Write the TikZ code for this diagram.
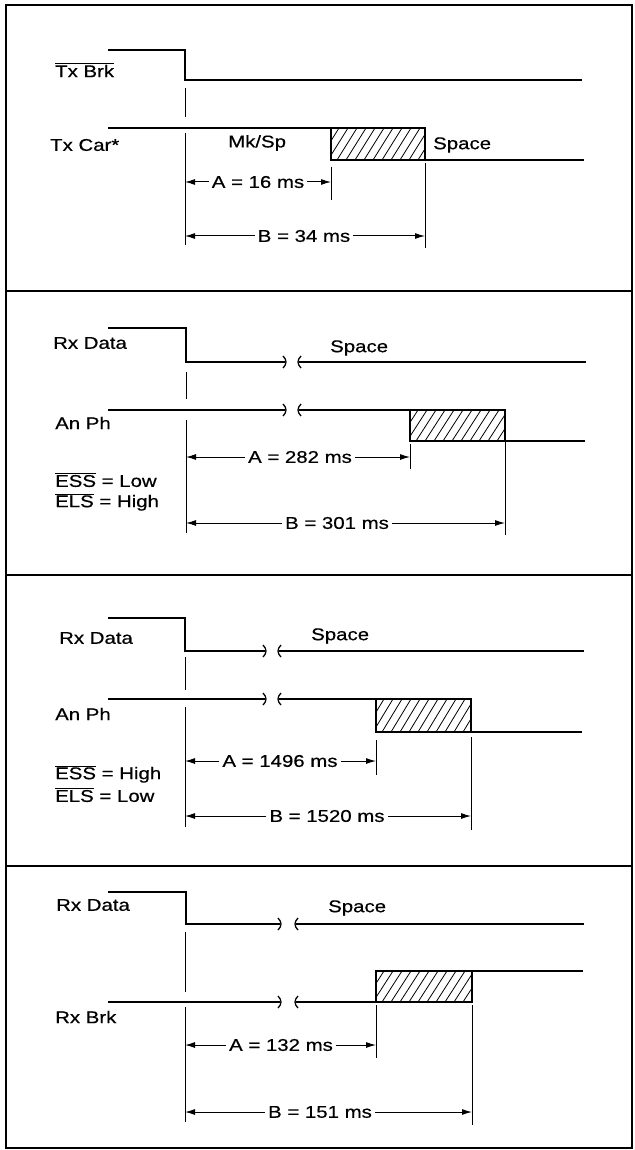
\documentclass[tikz,border=0pt]{standalone}
\usepackage{fontspec}
\setmainfont{Liberation Sans}[FakeStretch=1.2,FakeBold=0.5]
\usetikzlibrary{arrows.meta}
\tikzset{
  sig/.style={line width=2.6pt},
  guide/.style={line width=1pt},
  brktick/.style={line width=1.3pt},
  dimarrow/.style={line width=1pt,-{Latex[length=10pt,width=6pt]}},
  lbl/.style={anchor=west,inner sep=0pt,font=\fontsize{17}{20}\selectfont},
  dimlbl/.style={inner sep=3pt,font=\fontsize{17}{20}\selectfont},
  hatchline/.style={line width=0.8pt},
  frame/.style={line width=2pt},
}
\newcommand\myhatch[4]{%
  \begin{scope}
    \clip (#1,#2) rectangle (#3,#4);
    \foreach \i in {-30,-21,...,110} \draw[hatchline] ({#1+\i},#4) -- ({#1+\i+20},#2);
  \end{scope}
  \draw[sig] (#1,#2) rectangle (#3,#4);
}
\newcommand\mybreakL[2]{%
  \draw[brktick] ({#1-2},{#2-6}) .. controls ({#1+2},{#2-2}) and ({#1+2},{#2+2}) .. ({#1-2},{#2+6});
}
\newcommand\mybreakR[2]{%
  \draw[brktick] ({#1+2},{#2-6}) .. controls ({#1-2},{#2-2}) and ({#1-2},{#2+2}) .. ({#1+2},{#2+6});
}
\begin{document}
\begin{tikzpicture}[x=1pt,y=-1pt]
\useasboundingbox (0,0) rectangle (634,1150);
% frame
\draw[frame] (6,5) rectangle (632,1148);
\draw[frame] (6,291) -- (632,291);
\draw[frame] (6,575) -- (632,575);
\draw[frame] (6,866) -- (632,866);

% ---------------- Panel 1
\coordinate (p1a) at (108,50); \coordinate (p1b) at (185,50);
\coordinate (p1c) at (185,80); \coordinate (p1d) at (582,80);
\draw[sig] (p1a) -- (p1b) -- (p1c) -- (p1d);
\node[lbl] (txbrk) at (55,70) {$\overline{\mbox{Tx Brk}}$};
\coordinate (p1e) at (108,128); \coordinate (p1f) at (331,128);
\draw[sig] (p1e) -- (p1f);
\myhatch{331}{128}{425}{160}
\coordinate (p1g) at (425,160); \coordinate (p1h) at (584,160);
\draw[sig] (p1g) -- (p1h);
\node[lbl] (txcar) at (50,145) {Tx Car*};
\node[lbl] (mksp) at (228,143) {Mk/Sp};
\node[lbl] (sp1) at (433,145) {Space};
\draw[guide] (185,88) -- (185,117);
\draw[guide] (185,133) -- (185,245);
\draw[guide] (331,167) -- (331,200);
\draw[guide] (425,163) -- (425,248);
\coordinate (a1l) at (185,182); \coordinate (a1r) at (331,182);
\node[dimlbl] (a1) at (258,182) {A = 16 ms};
\draw[dimarrow] (a1) -- (a1l); \draw[dimarrow] (a1) -- (a1r);
\coordinate (b1l) at (185,236); \coordinate (b1r) at (425,236);
\node[dimlbl] (b1) at (304,236) {B = 34 ms};
\draw[dimarrow] (b1) -- (b1l); \draw[dimarrow] (b1) -- (b1r);

% ---------------- Panel 2
\draw[sig] (108,328) -- (186,328) -- (186,362) -- (285,362);
\mybreakL{285}{362}
\draw[sig] (299,362) -- (586,362);
\mybreakR{299}{362}
\draw[sig] (108,410) -- (285,410);
\mybreakL{285}{410}
\draw[sig] (299,410) -- (410,410);
\mybreakR{299}{410}
\myhatch{410}{410}{505}{441}
\draw[sig] (505,441) -- (585,441);
\node[lbl] (rx2) at (53,343) {Rx Data};
\node[lbl] (sp2) at (330,348) {Space};
\node[lbl] (an2) at (55,423) {An Ph};
\node[lbl] (ess2) at (55,480) {$\overline{\mbox{ESS}}$ = Low};
\node[lbl] (els2) at (55,502) {$\overline{\mbox{ELS}}$ = High};
\draw[guide] (186,372) -- (186,399);
\draw[guide] (186,420) -- (186,533);
\draw[guide] (410,444) -- (410,469);
\draw[guide] (505,442) -- (505,535);
\coordinate (a2l) at (186,457); \coordinate (a2r) at (410,457);
\node[dimlbl] (a2) at (300,457) {A = 282 ms};
\draw[dimarrow] (a2) -- (a2l); \draw[dimarrow] (a2) -- (a2r);
\coordinate (b2l) at (186,523); \coordinate (b2r) at (505,523);
\node[dimlbl] (b2) at (337,523) {B = 301 ms};
\draw[dimarrow] (b2) -- (b2l); \draw[dimarrow] (b2) -- (b2r);

% ---------------- Panel 3
\draw[sig] (108,618) -- (185,618) -- (185,651) -- (265,651);
\mybreakL{265}{651}
\draw[sig] (279,651) -- (584,651);
\mybreakR{279}{651}
\draw[sig] (108,699) -- (265,699);
\mybreakL{265}{699}
\draw[sig] (279,699) -- (376,699);
\mybreakR{279}{699}
\myhatch{376}{699}{471}{732}
\draw[sig] (471,732) -- (582,732);
\node[lbl] (rx3) at (59,638) {Rx Data};
\node[lbl] (sp3) at (311,636) {Space};
\node[lbl] (an3) at (55,714) {An Ph};
\node[lbl] (ess3) at (55,774) {$\overline{\mbox{ESS}}$ = High};
\node[lbl] (els3) at (55,795) {$\overline{\mbox{ELS}}$ = Low};
\draw[guide] (185,657) -- (185,690);
\draw[guide] (185,707) -- (185,827);
\draw[guide] (376,740) -- (376,775);
\draw[guide] (471,737) -- (471,830);
\coordinate (a3l) at (185,761); \coordinate (a3r) at (376,761);
\node[dimlbl] (a3) at (280,761) {A = 1496 ms};
\draw[dimarrow] (a3) -- (a3l); \draw[dimarrow] (a3) -- (a3r);
\coordinate (b3l) at (185,816); \coordinate (b3r) at (471,816);
\node[dimlbl] (b3) at (327,816) {B = 1520 ms};
\draw[dimarrow] (b3) -- (b3l); \draw[dimarrow] (b3) -- (b3r);

% ---------------- Panel 4
\draw[sig] (108,892) -- (186,892) -- (186,924) -- (280,924);
\mybreakL{280}{924}
\draw[sig] (296,924) -- (584,924);
\mybreakR{296}{924}
\draw[sig] (108,1002) -- (280,1002);
\mybreakL{280}{1002}
\draw[sig] (296,1002) -- (376,1002);
\mybreakR{296}{1002}
\myhatch{376}{971}{472}{1002}
\draw[sig] (472,971) -- (583,971);
\node[lbl] (rx4) at (56,905) {Rx Data};
\node[lbl] (sp4) at (328,908) {Space};
\node[lbl] (brk4) at (55,1017) {Rx Brk};
\draw[guide] (185,932) -- (185,992);
\draw[guide] (185,1007) -- (185,1122);
\draw[guide] (376,1005) -- (376,1058);
\draw[guide] (472,1005) -- (472,1125);
\coordinate (a4l) at (185,1045); \coordinate (a4r) at (376,1045);
\node[dimlbl] (a4) at (281,1045) {A = 132 ms};
\draw[dimarrow] (a4) -- (a4l); \draw[dimarrow] (a4) -- (a4r);
\coordinate (b4l) at (185,1112); \coordinate (b4r) at (472,1112);
\node[dimlbl] (b4) at (320,1112) {B = 151 ms};
\draw[dimarrow] (b4) -- (b4l); \draw[dimarrow] (b4) -- (b4r);
\end{tikzpicture}
\end{document}
